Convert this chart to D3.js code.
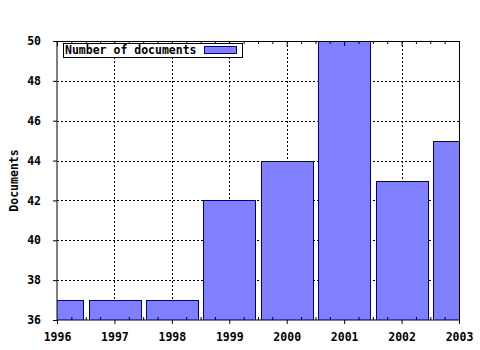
<!DOCTYPE html>
<html>
<head>
<meta charset="utf-8">
<script src="https://cdn.jsdelivr.net/npm/d3@7"></script>
<style>
  body { margin: 0; background: #fff; }
  text { font-family: "DejaVu Sans Mono", monospace; font-weight: bold; font-size: 11.5px; }
</style>
</head>
<body>
<svg id="chart" width="480" height="350"></svg>
<script>
const years = [1996, 1997, 1998, 1999, 2000, 2001, 2002, 2003]
const docs = [37, 37, 37, 42, 44, 50, 43, 45]
const yTicks = [36, 38, 40, 42, 44, 46, 48, 50]
const seriesName = 'Number of documents'

const svg = d3.select('#chart')
const pl = 57, pr = 459, pt = 41, pb = 320

const x = d3.scaleLinear().domain([1996, 2003]).range([pl, pr])
const y = d3.scaleLinear().domain([36, 50]).range([pb, pt])
const barW = (x(1997) - x(1996)) * 0.9

svg.append('defs').append('clipPath').attr('id', 'plot')
  .append('rect').attr('x', pl).attr('y', pt).attr('width', pr - pl).attr('height', pb - pt)

// grid
const grid = svg.append('g').attr('stroke', '#000').attr('stroke-dasharray', '2,2').attr('shape-rendering', 'crispEdges')
grid.selectAll('.gy').data(yTicks.slice(1, -1)).join('line')
  .attr('x1', pl).attr('x2', pr).attr('y1', d => y(d) + 0.5).attr('y2', d => y(d) + 0.5)
grid.selectAll('.gx').data(years.slice(1, -1)).join('line')
  .attr('y1', pt).attr('y2', pb).attr('x1', d => x(d) + 0.5).attr('x2', d => x(d) + 0.5)

// bars
svg.append('g').attr('clip-path', 'url(#plot)')
  .selectAll('rect').data(years).join('rect')
  .attr('x', d => Math.round(x(d) - barW / 2) + 0.5)
  .attr('width', Math.round(barW))
  .attr('y', (d, i) => Math.round(y(docs[i])) + 0.5)
  .attr('height', (d, i) => pb - Math.round(y(docs[i])))
  .attr('fill', '#8080ff')
  .attr('stroke', '#000080')

// frame
svg.append('g').attr('fill', 'none').attr('stroke', '#000').attr('shape-rendering', 'crispEdges')
  .call(g => {
    g.append('line').attr('x1', pl).attr('x2', pr).attr('y1', pt).attr('y2', pt)
    g.append('line').attr('x1', pr).attr('x2', pr).attr('y1', pt).attr('y2', pb)
  })

// y axis
const yAxis = d3.axisLeft(y).tickValues(yTicks).tickSize(4).tickPadding(12).tickFormat(d3.format('d'))
svg.append('g').attr('transform', `translate(${pl},0)`).call(yAxis)
  .call(g => g.select('.domain').attr('d', `M0,${pt}V${pb}`))
  .call(g => g.selectAll('text').attr('font-family', null).attr('font-size', null).attr('fill', '#000'))

// x axis
const minor = d3.range(1996, 2003.01, 0.25).filter(v => v % 1 !== 0)
const xg = svg.append('g').attr('transform', `translate(0,${pb})`)
xg.selectAll('.mn').data(minor).join('line')
  .attr('x1', d => x(d) + 0.5).attr('x2', d => x(d) + 0.5).attr('y1', 0).attr('y2', -3).attr('stroke', '#000')
svg.append('g').selectAll('line').data(minor.concat(years)).join('line')
  .attr('x1', d => x(d) + 0.5).attr('x2', d => x(d) + 0.5).attr('y1', pt).attr('y2', d => pt + (d % 1 ? 3 : 5)).attr('stroke', '#000')
const xAxis = d3.axisBottom(x).tickValues(years).tickSize(4).tickPadding(9).tickFormat(d3.format('d'))
xg.call(xAxis)
  .call(g => g.select('.domain').attr('d', `M${pl},0H${pr}`))
  .call(g => g.selectAll('text').attr('font-family', null).attr('font-size', null).attr('fill', '#000'))

// y label
svg.append('text').attr('transform', `translate(18,${(pt + pb) / 2}) rotate(-90)`)
  .attr('text-anchor', 'middle').text('Documents')

// legend
const lg = svg.append('g').attr('transform', 'translate(63,43)')
lg.append('rect').attr('x', 0.5).attr('y', 0.5).attr('width', 179).attr('height', 14)
  .attr('fill', '#fff').attr('stroke', '#000')
lg.append('text').attr('x', 2).attr('y', 11).text(seriesName)
lg.append('rect').attr('x', 141.5).attr('y', 3.5).attr('width', 32).attr('height', 7)
  .attr('fill', '#8080ff').attr('stroke', '#000080')
</script>
</body>
</html>
